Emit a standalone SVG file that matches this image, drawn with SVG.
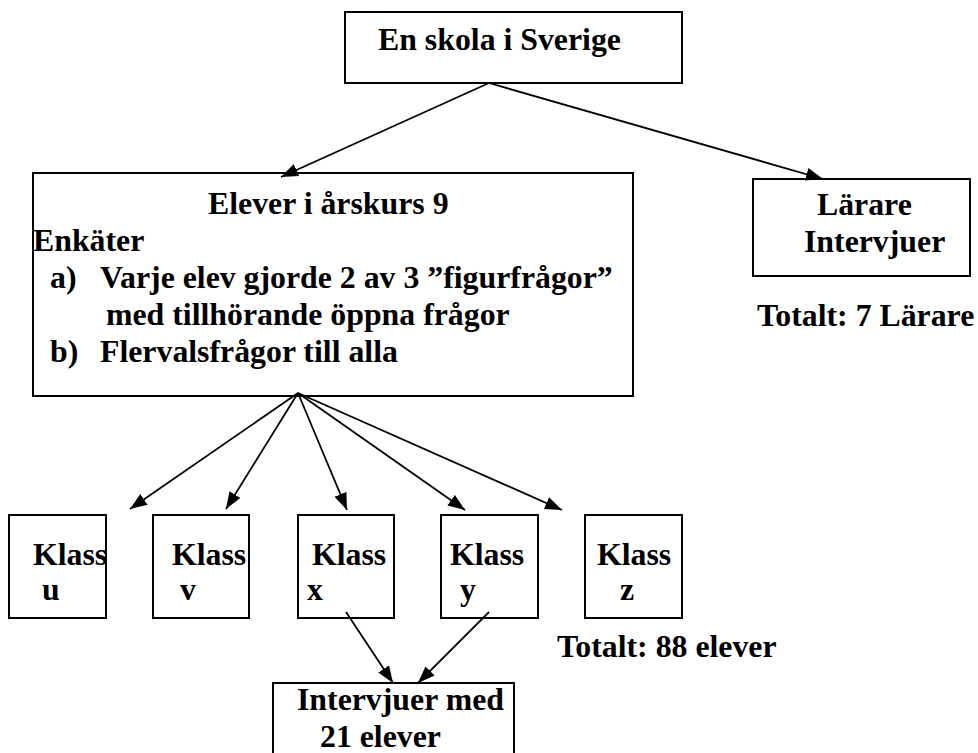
<svg xmlns="http://www.w3.org/2000/svg" width="978" height="753" viewBox="0 0 978 753">
<style>
.box{fill:#fff;stroke:#000;stroke-width:2}
.t{font-family:"Liberation Serif","Times New Roman",serif;font-weight:bold;font-size:31.8px;fill:#000}
.c{stroke:#000;stroke-width:1.8;fill:none;marker-end:url(#ah)}
</style>
<defs>
<marker id="ah" markerUnits="userSpaceOnUse" markerWidth="20" markerHeight="16" refX="17" refY="6.5" orient="auto">
<path d="M0,0 L17,6.5 L0,13 Z" fill="#000"/>
</marker>
</defs>
<rect width="978" height="753" fill="#fff"/>
<g id="skola">
<rect class="box" x="345" y="12" width="337" height="71"/>
<text class="t" x="378" y="50">En skola i Sverige</text>
</g>
<g id="elever">
<rect class="box" x="33" y="173" width="600" height="223"/>
<text class="t" x="208" y="214">Elever i årskurs 9</text>
<text class="t" x="33" y="251">Enkäter</text>
<text class="t" x="50" y="288">a)</text>
<text class="t" x="100" y="288">Varje elev gjorde 2 av 3 ”figurfrågor”</text>
<text class="t" x="106" y="325">med tillhörande öppna frågor</text>
<text class="t" x="50" y="362">b)</text>
<text class="t" x="100" y="362">Flervalsfrågor till alla</text>
</g>
<g id="larare">
<rect class="box" x="753" y="179" width="217" height="97"/>
<text class="t" x="817" y="215">Lärare</text>
<text class="t" x="804" y="252">Intervjuer</text>
</g>
<text class="t" x="757" y="326">Totalt: 7 Lärare</text>
<g id="klass-u">
<rect class="box" x="9" y="515" width="97" height="103"/>
<text class="t" x="33" y="565">Klass</text>
<text class="t" x="42" y="600">u</text>
</g>
<g id="klass-v">
<rect class="box" x="153" y="515" width="96" height="103"/>
<text class="t" x="172" y="565">Klass</text>
<text class="t" x="180" y="600">v</text>
</g>
<g id="klass-x">
<rect class="box" x="298" y="515" width="96" height="103"/>
<text class="t" x="312" y="565">Klass</text>
<text class="t" x="307" y="600">x</text>
</g>
<g id="klass-y">
<rect class="box" x="441" y="515" width="97" height="103"/>
<text class="t" x="450" y="565">Klass</text>
<text class="t" x="460" y="600">y</text>
</g>
<g id="klass-z">
<rect class="box" x="585" y="515" width="97" height="103"/>
<text class="t" x="597" y="565">Klass</text>
<text class="t" x="620" y="600">z</text>
</g>
<text class="t" x="557" y="657">Totalt: 88 elever</text>
<g id="intervjuer">
<rect class="box" x="273" y="683" width="241" height="80"/>
<text class="t" x="297" y="710">Intervjuer med</text>
<text class="t" x="320" y="747">21 elever</text>
</g>
<g id="connectors">
<line class="c" x1="489" y1="83" x2="281" y2="177"/>
<line class="c" x1="489" y1="83" x2="823" y2="179"/>
<line class="c" x1="298" y1="393" x2="130" y2="509"/>
<line class="c" x1="298" y1="393" x2="226" y2="509"/>
<line class="c" x1="298" y1="393" x2="347" y2="510"/>
<line class="c" x1="298" y1="393" x2="465" y2="510"/>
<line class="c" x1="298" y1="393" x2="562" y2="510"/>
<line class="c" x1="346" y1="612" x2="393" y2="683"/>
<line class="c" x1="489" y1="612" x2="418" y2="683"/>
</g>
</svg>
